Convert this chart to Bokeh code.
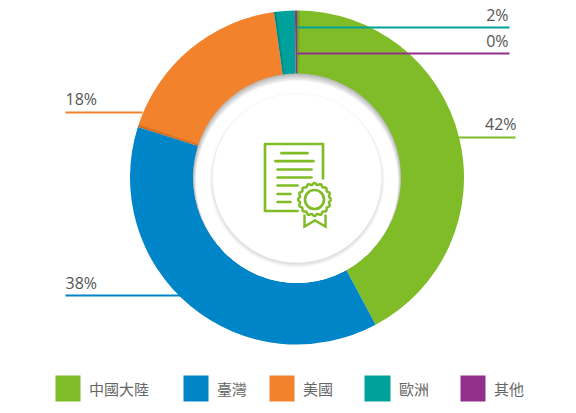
import math
import numpy as np
from bokeh.plotting import figure
from bokeh.models import Range1d
from bokeh.core.properties import value
from bokeh.embed import file_html
from bokeh.resources import INLINE

categories = ["中國大陸", "臺灣", "美國", "歐洲", "其他"]
shares = [42.2, 37.7, 17.9, 2.0, 0.2]
share_labels = ["42%", "38%", "18%", "2%", "0%"]
colors = ["#80BC27", "#0085C8", "#F2822B", "#00A19A", "#912F8B"]

CX, CY, R_OUT, R_HOLE, R_CORE = 296.5, 177, 167, 104, 84.5

p = figure(width=568, height=405, output_backend="svg", toolbar_location=None,
           x_range=Range1d(0, 568), y_range=Range1d(405, 0), min_border=0,
           outline_line_color=None, background_fill_color="white", border_fill_color="white")
p.xaxis.visible = False
p.yaxis.visible = False
p.xgrid.visible = False
p.ygrid.visible = False

# ring: angles measured clockwise from twelve o'clock
total = sum(shares)
fracs = np.cumsum([0] + shares) / total
starts = [math.pi / 2 - 2 * math.pi * f for f in fracs[:-1]]
ends = [math.pi / 2 - 2 * math.pi * f for f in fracs[1:]]
p.annular_wedge([CX] * 5, [CY] * 5, inner_radius=R_HOLE - 2, outer_radius=R_OUT,
                start_angle=starts, end_angle=ends, direction="clock",
                color=colors, line_width=0)

# soft shade where a slice lies under its neighbour
for k in range(4):
    w = 0.004 + k * 0.005
    for a in [starts[0], starts[2], starts[3]]:
        p.annular_wedge([CX], [CY], inner_radius=R_HOLE - 2, outer_radius=R_OUT,
                        start_angle=[a], end_angle=[a - w], direction="clock",
                        color="#000000", alpha=0.05, line_width=0)

# hole with its inner shadow
steps = 12
for i in range(steps):
    t = i / (steps - 1)
    g = int(185 + 70 * t)
    p.circle([CX], [CY + t * 4.5], radius=R_HOLE - t * 3,
             color=f"#{g:02x}{g:02x}{g:02x}", line_width=0)
# centre disc with drop shadow
for i in range(6):
    p.circle([CX], [CY + 2.5], radius=R_CORE + 3 - i * 0.6, color="#000000", alpha=0.018, line_width=0)
p.circle([CX], [CY + 0.6], radius=R_CORE, color="white", line_width=0)

# certificate icon
G = colors[0]
p.line([297, 264.5, 264.5, 322.5, 322.5], [210.5, 210.5, 143.5, 143.5, 178], color=G, line_width=2.7, line_cap="round", line_join="round")
rows_y = [152.7, 160.7, 169, 177, 185, 193.5, 201.5]
rows_x0 = [281, 275, 277, 277, 277, 277, 277]
rows_x1 = [307, 313, 311, 311, 297, 290, 290]
p.multi_line([[a, b] for a, b in zip(rows_x0, rows_x1)], [[y, y] for y in rows_y], color=G, line_width=2.7, line_cap="round")
th = np.linspace(0, 2 * np.pi, 145)
rad = 15.6 + 0.9 * np.cos(16 * th)
p.line(314 + rad * np.cos(th), 199 + rad * np.sin(th), color=G, line_width=2.5)
p.circle([314], [199], radius=9.5, fill_color="white", line_color=G, line_width=2.7)
p.line([304, 304, 314.5, 325, 325], [214, 226, 220, 226, 214], color=G, line_width=2.5, line_join="miter")

# leader lines
LEADERS = {0: (458, 515, 137), 1: (65, 180, 295), 2: (65, 142, 112), 3: (297, 509, 27), 4: (297, 509, 53)}
for i, (x0, x1, y) in LEADERS.items():
    p.line([x0, x1], [y, y], color=colors[i], line_width=2)
LABELS = {0: (516, 123.5, "right"), 1: (65, 282.5, "left"), 2: (65, 98.5, "left"), 3: (508, 14, "right"), 4: (508, 40, "right")}
for i, (x, y, al) in LABELS.items():
    p.text([x], [y], text=[share_labels[i]], text_font=value("Open Sans"), text_font_size="16px",
           text_color="#555555", text_align=al, text_baseline="alphabetic")

# legend
LEG_X = [55, 183, 269, 364, 460]
LEG_W = [25, 25, 25, 26, 25]
p.rect([x + w / 2 for x, w in zip(LEG_X, LEG_W)], [388] * 5, width=LEG_W, height=26, color=colors, line_width=0)
p.text([x + w + 8.5 for x, w in zip(LEG_X, LEG_W)], [388] * 5, text=categories,
       text_font=value("Noto Sans CJK TC"), text_font_size="15px", text_color="#666666",
       text_align="left", text_baseline="alphabetic")

open("out.html", "w").write(file_html(p, INLINE))
